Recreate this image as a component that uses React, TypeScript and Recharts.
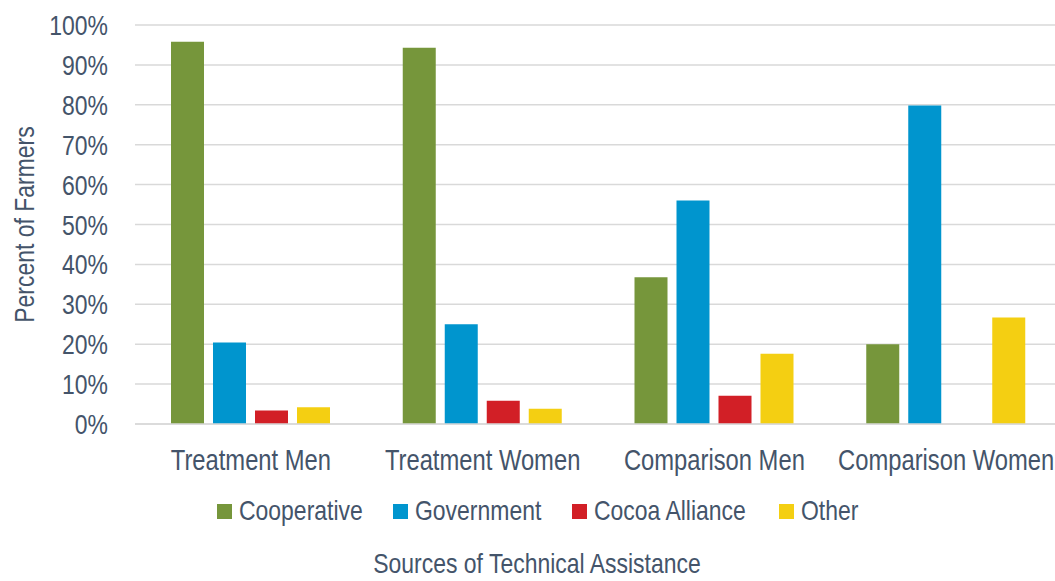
import React from 'react';
import { BarChart, Bar, XAxis, YAxis, CartesianGrid } from 'recharts';

const categories = ['Treatment Men', 'Treatment Women', 'Comparison Men', 'Comparison Women'];
const cooperative = [95.8, 94.3, 36.8, 20.0];
const government = [20.4, 25.0, 56.0, 79.8];
const cocoaAlliance = [3.4, 5.8, 7.1, null];
const other = [4.2, 3.8, 17.6, 26.7];
const yTicks = [0, 10, 20, 30, 40, 50, 60, 70, 80, 90, 100];

const series = [
  { key: 'Cooperative', color: '#76963B' },
  { key: 'Government', color: '#0095CE' },
  { key: 'Cocoa Alliance', color: '#D21F26' },
  { key: 'Other', color: '#F4CF12' },
];

const data = categories.map((name, i) => ({
  name,
  Cooperative: cooperative[i],
  Government: government[i],
  'Cocoa Alliance': cocoaAlliance[i],
  Other: other[i],
}));

// no narrow font installed, so regular Liberation Sans squeezed horizontally
const FONT = "'Liberation Sans', Arial, sans-serif";
const TEXT = '#44546A';
const SQUEEZE = 0.82;

const YTick = ({ x, y, payload }: any) => (
  <g transform={`translate(${x},${y})`}>
    <text transform={`scale(${SQUEEZE},1)`} textAnchor="end" dy="0.36em" fill={TEXT} fontSize={28} fontFamily={FONT}>
      {`${payload.value}%`}
    </text>
  </g>
);

const XTick = ({ x, y, payload }: any) => (
  <g transform={`translate(${x},${y})`}>
    <text transform={`scale(${SQUEEZE},1)`} textAnchor="middle" dy="0.71em" fill={TEXT} fontSize={29} fontFamily={FONT}>
      {payload.value}
    </text>
  </g>
);

const YTitle = ({ viewBox }: any) => {
  const cy = viewBox.y + viewBox.height / 2;
  return (
    <g transform={`translate(24,${cy}) rotate(-90) scale(${SQUEEZE},1)`}>
      <text textAnchor="middle" dy="0.36em" fill={TEXT} fontSize={28} fontFamily={FONT}>
        Percent of Farmers
      </text>
    </g>
  );
};

// legend item positions, as laid out in the original
const legendX = [217, 393, 572, 779];

const LegendBlock = () => (
  <svg width={1055} height={101} style={{ position: 'absolute', left: 0, top: 480 }}>
    {series.map((s, i) => (
      <g key={s.key} transform={`translate(${legendX[i]},0)`}>
        <rect x={0} y={24} width={15} height={15} fill={s.color} />
        <g transform={`translate(22,40) scale(${SQUEEZE},1)`}>
          <text fill={TEXT} fontSize={28} fontFamily={FONT}>{s.key}</text>
        </g>
      </g>
    ))}
    <g transform={`translate(537,93) scale(${SQUEEZE},1)`}>
      <text textAnchor="middle" fill={TEXT} fontSize={28} fontFamily={FONT}>Sources of Technical Assistance</text>
    </g>
  </svg>
);

export default function App() {
  return (
    <div style={{ position: 'absolute', left: 0, top: 0, width: 1055, height: 581, overflow: 'hidden', background: '#fff' }}>
      <BarChart
        width={1070}
        height={581}
        data={data}
        margin={{ top: 25, right: 8, left: 0, bottom: 0 }}
        barSize={33}
        barGap={9}
      >
        <CartesianGrid vertical={false} stroke="#D9D9D9" strokeWidth={1.5} />
        <XAxis
          dataKey="name"
          axisLine={{ stroke: '#D9D9D9', strokeWidth: 1.5 }}
          tickLine={false}
          tickMargin={19}
          height={157}
          interval={0}
          tick={<XTick />}
        />
        <YAxis
          domain={[0, 100]}
          ticks={yTicks}
          axisLine={false}
          tickLine={false}
          tickMargin={21}
          width={135}
          interval={0}
          tick={<YTick />}
          label={{ content: (props: any) => <YTitle {...props} /> }}
        />
        {series.map((s) => (
          <Bar key={s.key} dataKey={s.key} fill={s.color} isAnimationActive={false} />
        ))}
      </BarChart>
      <LegendBlock />
    </div>
  );
}
